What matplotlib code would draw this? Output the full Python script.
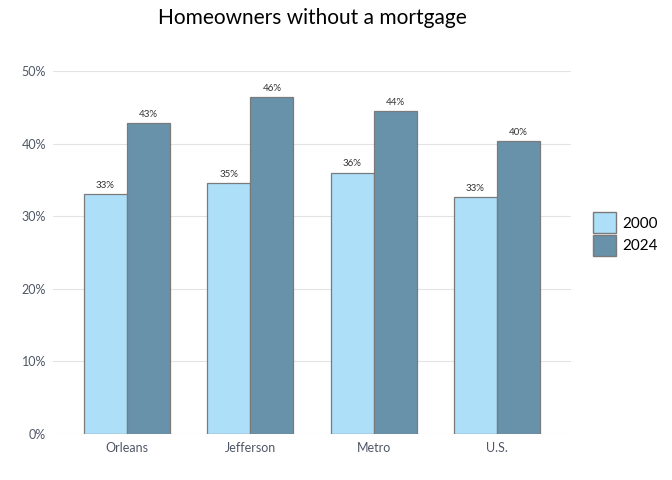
import matplotlib
matplotlib.use("Agg")
import matplotlib.pyplot as plt
import numpy as np
from matplotlib.patches import Patch

categories = ["Orleans", "Jefferson", "Metro", "U.S."]
series_names = ["2000", "2024"]
values_2000 = [0.330, 0.346, 0.360, 0.326]
values_2024 = [0.428, 0.464, 0.445, 0.404]
yticks = [0, 0.1, 0.2, 0.3, 0.4, 0.5]
ytick_labels = ["0%", "10%", "20%", "30%", "40%", "50%"]

plt.rcParams['font.family'] = ['Lato', 'DejaVu Sans']

c2000 = "#addff9"
c2024 = "#6891aa"
edge = "#7a7a7a"
txtcol = "#4f5766"

fig = plt.figure(figsize=(6.72, 4.8), dpi=100)
ax = fig.add_axes([53/672, 1-434/480, (571-53)/672, (434-71)/480])

x = np.arange(len(categories))
w = 0.35
b1 = ax.bar(x - w/2, values_2000, w, color=c2000, edgecolor=edge, linewidth=0.9, zorder=3)
b2 = ax.bar(x + w/2, values_2024, w, color=c2024, edgecolor=edge, linewidth=0.9, zorder=3)

for bars, vals in ((b1, values_2000), (b2, values_2024)):
    for rect, v in zip(bars, vals):
        ax.annotate(f"{round(v*100):.0f}%", (rect.get_x() + rect.get_width()/2, v),
                    xytext=(0, 3), textcoords="offset points", ha="center", va="bottom",
                    fontsize=7, color="#333333")

ax.set_xlim(-0.6, len(categories) - 1 + 0.6)
ax.set_ylim(0, 0.5)
ax.set_yticks(yticks)
ax.set_yticklabels(ytick_labels)
ax.set_xticks(x)
ax.set_xticklabels(categories)
ax.tick_params(axis='both', length=0, colors=txtcol, labelsize=9)
ax.tick_params(axis='y', pad=5)
ax.tick_params(axis='x', pad=6)
ax.grid(axis='y', color="#e3e3e3", linewidth=0.8, zorder=0)
ax.set_axisbelow(True)
for s in ax.spines.values():
    s.set_visible(False)

fig.text(312/672, 1-18/480, "Homeowners without a mortgage", ha="center", va="center",
         fontsize=15, color="black")

handles = [Patch(facecolor=c2000, edgecolor=edge, label="2000"),
           Patch(facecolor=c2024, edgecolor=edge, label="2024")]
fig.legend(handles=handles, loc="center left", bbox_to_anchor=(593/672, 1-234/480),
           frameon=False, fontsize=11, handlelength=1.5, handleheight=1.75,
           handletextpad=0.4, labelspacing=0.1, borderaxespad=0, borderpad=0)

fig.savefig("out.png", dpi=100)
